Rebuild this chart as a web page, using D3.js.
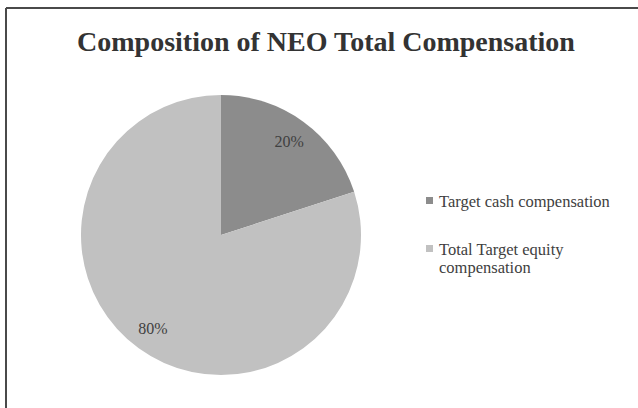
<!DOCTYPE html>
<html>
<head>
<meta charset="utf-8">
<script src="https://cdn.jsdelivr.net/npm/d3@7"></script>
<style>
  body { margin: 0; background: #fff; overflow: hidden; }
  text { font-family: "Liberation Serif", "Times New Roman", serif; }
</style>
</head>
<body>
<script>
// chart data
var categories = ["Target cash compensation", "Total Target equity compensation"];
var values = [20, 80];
var colors = ["#8c8c8c", "#c1c1c1"];
var legendLines = [["Target cash compensation"], ["Total Target equity", "compensation"]];

var width = 638, height = 408;
var cx = 221, cy = 235, radius = 140;

var svg = d3.select("body").append("svg")
    .attr("width", width)
    .attr("height", height)
    .style("display", "block");

// frame (only top and left edges show in the crop)
svg.append("line")
    .attr("x1", 6).attr("y1", 8)
    .attr("x2", width).attr("y2", 8)
    .attr("stroke", "#4a4a4a")
    .attr("stroke-width", 2);
svg.append("line")
    .attr("x1", 6).attr("y1", 8)
    .attr("x2", 6).attr("y2", height)
    .attr("stroke", "#4a4a4a")
    .attr("stroke-width", 2);

// title
svg.append("text")
    .attr("x", 326)
    .attr("y", 51)
    .attr("text-anchor", "middle")
    .attr("font-size", 28)
    .attr("font-weight", "bold")
    .attr("fill", "#333")
    .text("Composition of NEO Total Compensation");

var data = categories.map(function (c, i) {
    return { name: c, value: values[i] };
});

var pie = d3.pie()
    .sort(null)
    .value(function (d) { return d.value; });

var arc = d3.arc().innerRadius(0).outerRadius(radius);
var labelArc = d3.arc().innerRadius(116).outerRadius(116);

var g = svg.append("g")
    .attr("transform", "translate(" + cx + "," + cy + ")");

var slices = pie(data);

g.selectAll("path")
    .data(slices)
    .enter().append("path")
    .attr("d", arc)
    .attr("fill", function (d, i) { return colors[i]; });

g.selectAll("text.lbl")
    .data(slices)
    .enter().append("text")
    .attr("class", "lbl")
    .attr("transform", function (d) { return "translate(" + labelArc.centroid(d) + ")"; })
    .attr("text-anchor", "middle")
    .attr("dy", "0.35em")
    .attr("font-size", 16)
    .attr("fill", "#404040")
    .text(function (d) { return d.data.value + "%"; });

// legend
var legendY = [201, 249];
var legend = svg.selectAll("g.legend")
    .data(legendLines)
    .enter().append("g")
    .attr("class", "legend")
    .attr("transform", function (d, i) { return "translate(426," + legendY[i] + ")"; });

legend.append("rect")
    .attr("x", 0)
    .attr("y", -4)
    .attr("width", 7)
    .attr("height", 7)
    .attr("fill", function (d, i) { return colors[i]; });

legend.each(function (lines) {
    var t = d3.select(this).append("text")
        .attr("x", 13)
        .attr("y", 0)
        .attr("font-size", 16.5)
        .attr("fill", "#404040");
    lines.forEach(function (line, j) {
        t.append("tspan")
            .attr("x", 13)
            .attr("dy", j === 0 ? "0.35em" : 18)
            .text(line);
    });
});
</script>
</body>
</html>
